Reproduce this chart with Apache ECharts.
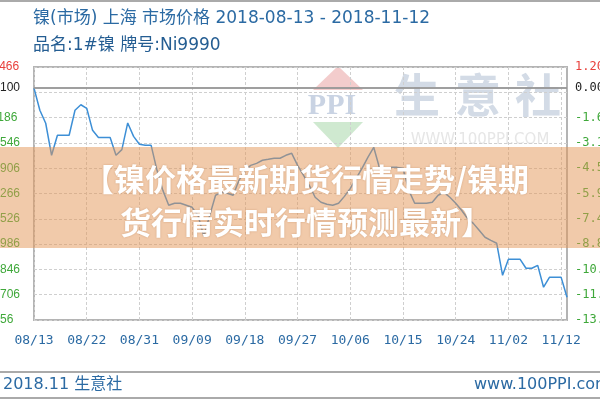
<!DOCTYPE html>
<html><head><meta charset="utf-8">
<script src="https://cdn.jsdelivr.net/npm/echarts@6/dist/echarts.min.js"></script>
<style>html,body{margin:0;padding:0;background:#fff}#c{width:600px;height:400px}</style>
</head><body><div id="c"></div>
<script>
const dates = [
'08-13','08-14','08-15','08-16','08-17','08-18','08-19','08-20','08-21','08-22','08-23','08-24','08-25','08-26','08-27','08-28','08-29','08-30','08-31',
'09-01','09-02','09-03','09-04','09-05','09-06','09-07','09-08','09-09','09-10','09-11','09-12','09-13','09-14','09-15','09-16','09-17','09-18','09-19','09-20','09-21','09-22','09-23','09-24','09-25','09-26','09-27','09-28','09-29','09-30',
'10-01','10-02','10-03','10-04','10-05','10-06','10-07','10-08','10-09','10-10','10-11','10-12','10-13','10-14','10-15','10-16','10-17','10-18','10-19','10-20','10-21','10-22','10-23','10-24','10-25','10-26','10-27','10-28','10-29','10-30','10-31',
'11-01','11-02','11-03','11-04','11-05','11-06','11-07','11-08','11-09','11-10','11-11','11-12'];
const prices = [
113100,111660,110820,108740,110040,110040,110040,111660,112020,111790,110360,109890,109890,109890,108740,109110,110840,109970,109460,
109390,109390,107770,106470,105500,105630,105630,105500,105370,104850,103490,104850,106150,106340,106280,106150,107120,107770,108090,108220,108420,108480,108550,108550,108740,108870,108090,107450,106800,106020,
105700,105570,105500,105630,106080,106600,107250,107900,108610,109260,107900,107900,107960,107960,107900,106470,105630,105630,105630,105700,106150,106340,106020,105630,105180,104660,104330,103880,103430,103230,103040,100960,
102000,102000,102000,101420,101420,101610,100190,100830,100830,100830,99540];
const xTickLabels = ['08/13','08/22','08/31','09/09','09/18','09/27','10/06','10/15','10/24','11/02','11/12'];
const leftTickLabels = ['114466','','111186','109546','107906','106266','104526','102986','101846','100706','98956'];
const rightTickLabels = ['1.20','','-1.67','-3.11','-4.55','-5.98','-7.42','-8.86','-10.3','-11.7','-13.2'];
const basePrice = 113100;
const baseLabelLeft = '113100';
const baseLabelRight = '0.00';
const yMin = 98066, yMax = 114466, yStep = 1640;
const xEvery = 9;

const chart = echarts.init(document.getElementById('c'), null, {renderer: 'canvas'});
const idxTop = v => Math.round((yMax - Number(v)) / yStep);
const red = '#e8413c', green = '#3fa83a';
const blue = '#2b6aa3';
const showX = (i) => i % xEvery === 0;

chart.setOption({
  animation: false,
  backgroundColor: '#fff',
  grid: {left: 34, right: 33, top: 67, bottom: 80, containLabel: false, outerBoundsMode: 'none',
    show: true, borderColor: '#b4b4b4', borderWidth: 2, backgroundColor: 'transparent'},
  xAxis: {
    type: 'category', data: dates, boundaryGap: false,
    axisLine: {show: false}, axisTick: {show: false},
    axisLabel: {interval: (i) => showX(i), formatter: (v, i) => xTickLabels[Math.round(i / xEvery)] || '',
      color: blue, fontFamily: 'DejaVu Sans Mono', fontSize: 13, margin: 14},
    splitLine: {show: true, interval: (i) => showX(i), lineStyle: {color: '#cfcfcf', type: [3, 2], width: 1}}
  },
  yAxis: [{
    type: 'value', position: 'left', min: yMin, max: yMax, interval: yStep,
    axisLine: {show: false}, axisTick: {show: false},
    splitLine: {show: true, lineStyle: {color: '#cfcfcf', type: [3, 2], width: 1}},
    axisLabel: {align: 'left', margin: 54, fontFamily: 'Liberation Sans', fontSize: 12,
      formatter: (v) => leftTickLabels[idxTop(v)] || '',
      color: (v) => idxTop(v) === 0 ? red : green}
  }, {
    type: 'value', position: 'right', min: yMin, max: yMax, interval: yStep,
    axisLine: {show: false}, axisTick: {show: false}, splitLine: {show: false},
    axisLabel: {margin: 8, fontFamily: 'DejaVu Sans Mono', fontSize: 12,
      formatter: (v) => rightTickLabels[idxTop(v)] || '',
      color: (v) => idxTop(v) === 0 ? red : green}
  }],
  series: [{
    type: 'line', data: prices, yAxisIndex: 0, showSymbol: false, smooth: false, z: 3,
    lineStyle: {color: '#3d8fd6', width: 1.5},
    markLine: {
      silent: true, symbol: ['none', 'none'], animation: false,
      lineStyle: {color: '#999', type: 'solid', width: 1.5},
      data: [
        {yAxis: basePrice, label: {show: true, position: 'start', formatter: baseLabelLeft, distance: 14, color: '#222', fontFamily: 'Liberation Sans', fontSize: 12}},
        {yAxis: basePrice, label: {show: true, position: 'end', formatter: baseLabelRight, distance: 8, color: '#222', fontFamily: 'DejaVu Sans Mono', fontSize: 12}}
      ]
    }
  }],
  graphic: [
    {type: 'polygon', z: -10, shape: {points: [[338, 66], [363, 90], [313, 90]]}, style: {fill: '#f3cccc'}},
    {type: 'polygon', z: -10, shape: {points: [[313, 122], [363, 122], [338, 148]]}, style: {fill: '#cfe9d0'}},
    {type: 'text', z: -10, style: {text: 'PPI', x: 332, y: 106, align: 'center', verticalAlign: 'middle', font: 'bold 30px "Liberation Serif"', fill: '#c9d3e3'}},
    {type: 'text', z: -10, style: {text: '生', x: 417, y: 95, align: 'center', verticalAlign: 'middle', font: 'bold 46px "Noto Sans CJK SC"', fill: '#d3dbe6'}},
    {type: 'text', z: -10, style: {text: '意', x: 478, y: 95, align: 'center', verticalAlign: 'middle', font: 'bold 46px "Noto Sans CJK SC"', fill: '#d3dbe6'}},
    {type: 'text', z: -10, style: {text: '社', x: 538, y: 95, align: 'center', verticalAlign: 'middle', font: 'bold 46px "Noto Sans CJK SC"', fill: '#d3dbe6'}},
    {type: 'text', z: -10, style: {text: 'WWW.100PPI.COM', x: 480, y: 140, align: 'center', verticalAlign: 'middle', font: '15px "DejaVu Sans"', fill: '#e6e6e6'}},
    {type: 'line', z: 5, shape: {x1: 0, y1: 1, x2: 600, y2: 1}, style: {stroke: '#aaa', lineWidth: 2}},
    {type: 'line', z: 5, shape: {x1: 0, y1: 372, x2: 600, y2: 372}, style: {stroke: '#aaa', lineWidth: 2}},
    {type: 'line', z: 5, shape: {x1: 0, y1: 398, x2: 600, y2: 398}, style: {stroke: '#aaa', lineWidth: 2}},
    {type: 'text', z: 5, style: {text: '镍(市场) 上海 市场价格 2018-08-13 - 2018-11-12', x: 33, y: 19, verticalAlign: 'middle', font: '17px "DejaVu Sans", "Noto Sans CJK SC"', fill: blue}},
    {type: 'text', z: 5, style: {text: '品名:1#镍 牌号:Ni9990', x: 33, y: 46, verticalAlign: 'middle', font: '17px "DejaVu Sans", "Noto Sans CJK SC"', fill: '#245d92'}},
    {type: 'text', z: 5, style: {text: '2018.11 生意社', x: 3, y: 385, verticalAlign: 'middle', font: '16px "DejaVu Sans", "Noto Sans CJK SC"', fill: blue}},
    {type: 'text', z: 5, style: {text: 'www.100PPI.com', x: 474, y: 385, verticalAlign: 'middle', font: '16px "DejaVu Sans", "Noto Sans CJK SC"', fill: blue}},
    {type: 'rect', z: 100, shape: {x: 0, y: 147, width: 600, height: 101}, style: {fill: 'rgba(228,150,85,0.5)'}},
    {type: 'text', z: 101, style: {text: '【镍价格最新期货行情走势/镍期', x: 306, y: 179, align: 'center', verticalAlign: 'middle', font: 'bold 31px "Noto Sans CJK SC"', fill: '#fff', textShadowColor: 'rgba(150,80,30,0.35)', textShadowBlur: 2}},
    {type: 'text', z: 101, style: {text: '货行情实时行情预测最新】', x: 306, y: 222, align: 'center', verticalAlign: 'middle', font: 'bold 31px "Noto Sans CJK SC"', fill: '#fff', textShadowColor: 'rgba(150,80,30,0.35)', textShadowBlur: 2}}
  ]
});
</script></body></html>
